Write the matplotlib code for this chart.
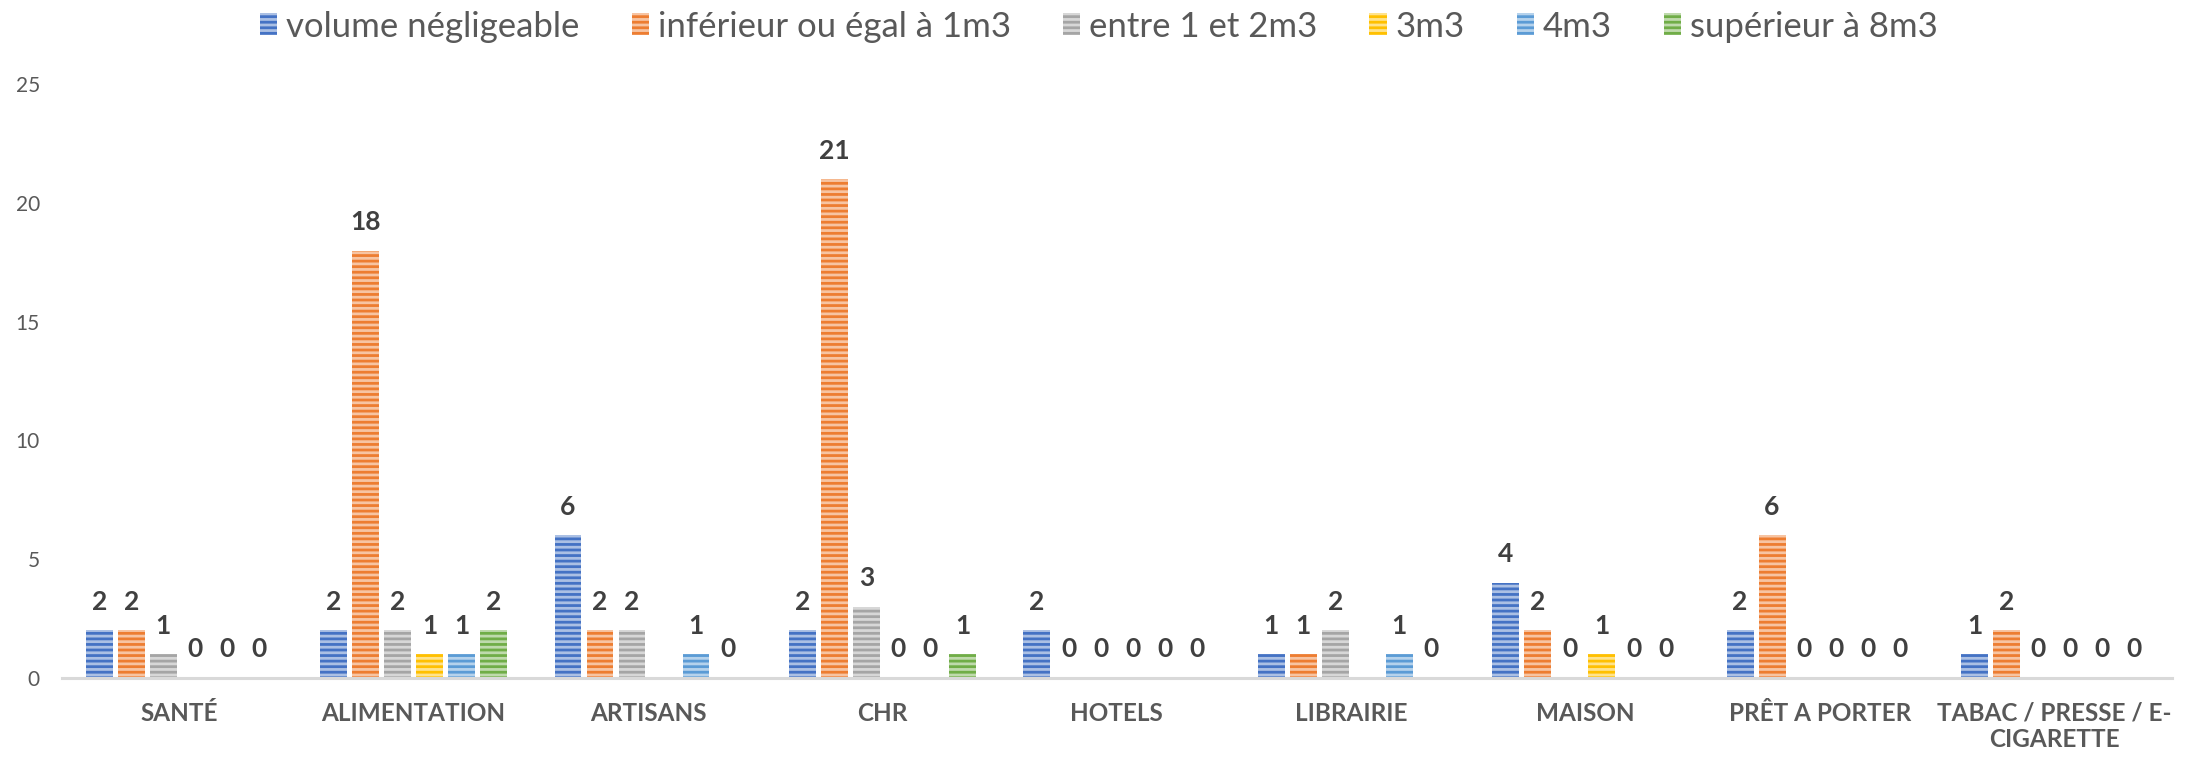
import matplotlib.pyplot as plt
import matplotlib.colors as mcolors
import numpy as np

plt.rcParams['font.family'] = ['Lato', 'DejaVu Sans']
plt.rcParams['hatch.linewidth'] = 2.0

# Données
categories = ['SANTÉ', 'ALIMENTATION', 'ARTISANS', 'CHR', 'HOTELS',
              'LIBRAIRIE', 'MAISON', 'PRÊT A PORTER', 'TABAC / PRESSE / E-\nCIGARETTE']
series_names = ['volume négligeable', 'inférieur ou égal à 1m3', 'entre 1 et 2m3',
                '3m3', '4m3', 'supérieur à 8m3']
nan = np.nan
volume_negligeable = [2, 2, 6, 2, 2, 1, 4, 2, 1]
inf_1m3 = [2, 18, 2, 21, 0, 1, 2, 6, 2]
entre_1_2m3 = [1, 2, 2, 3, 0, 2, 0, 0, 0]
vol_3m3 = [0, 1, nan, 0, 0, nan, 1, 0, 0]
vol_4m3 = [0, 1, 1, 0, 0, 1, 0, 0, 0]
sup_8m3 = [0, 2, 0, 1, 0, 0, 0, 0, 0]
all_series = [volume_negligeable, inf_1m3, entre_1_2m3, vol_3m3, vol_4m3, sup_8m3]
colors = ['#4472C4', '#ED7D31', '#A5A5A5', '#FFC000', '#5B9BD5', '#70AD47']

def lighter(c, amount=0.55):
    r, g, b = mcolors.to_rgb(c)
    return (r + (1 - r) * amount, g + (1 - g) * amount, b + (1 - b) * amount)

fig = plt.figure(figsize=(21.98, 7.6), dpi=100)
ax = fig.add_axes([0.0282, 0.108, 0.9598, 0.781])

x = np.arange(len(categories))
pitch = 0.1365
width = 0.115
handles = []
for i, (vals, col) in enumerate(zip(all_series, colors)):
    pos = x + (i - 2.5) * pitch
    v = np.array(vals, dtype=float)
    bars = ax.bar(pos, np.nan_to_num(v), width, color=col, edgecolor=lighter(col),
                  linewidth=0, hatch='---', label=series_names[i])
    handles.append(bars)
    for px, val in zip(pos, v):
        if np.isnan(val):
            continue
        ax.annotate(f'{int(val)}', (px, val), xytext=(0, 12), textcoords='offset points',
                    ha='center', va='bottom', fontsize=19, fontweight='bold', color='#404040')

ax.set_xlim(-0.5, len(categories) - 0.5)
ax.set_ylim(0, 25)
ax.set_yticks([0, 5, 10, 15, 20, 25])
ax.set_xticks(x)
ax.set_xticklabels(categories, fontsize=17.5, fontweight='bold', color='#595959')
ax.tick_params(axis='x', length=0, pad=17)
ax.tick_params(axis='y', length=0, pad=16, labelsize=15, labelcolor='#595959')
for s in ['top', 'right', 'left']:
    ax.spines[s].set_visible(False)
ax.spines['bottom'].set_color('#D9D9D9')
ax.spines['bottom'].set_linewidth(2.2)

fig.legend(handles=handles, labels=series_names, loc='center', bbox_to_anchor=(0.5, 0.965),
           ncol=6, frameon=False, fontsize=25, handlelength=0.5, handleheight=0.6,
           handletextpad=0.25, columnspacing=1.5, labelcolor='#595959')

fig.savefig('out.png', dpi=100)
